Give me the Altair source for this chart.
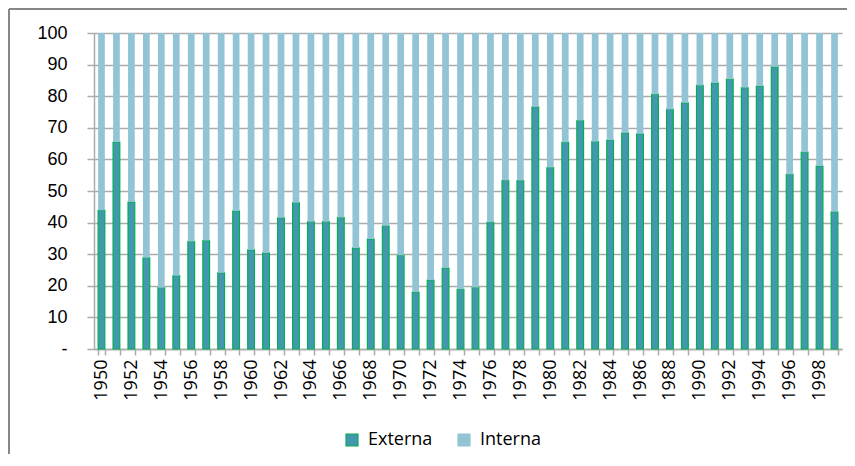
import altair as alt
import pandas as pd

years = list(range(1950, 2000))
externa = [43.9, 65.5, 46.5, 28.9, 19.4, 23.2, 34.0, 34.3, 24.1, 43.7,
           31.4, 30.4, 41.5, 46.3, 40.3, 40.3, 41.6, 32.0, 34.8, 39.0,
           29.7, 18.0, 21.8, 25.6, 18.9, 19.5, 40.1, 53.4, 53.3, 76.6,
           57.4, 65.4, 72.3, 65.6, 66.1, 68.4, 68.1, 80.6, 75.8, 77.9,
           83.4, 84.2, 85.4, 82.7, 83.2, 89.3, 55.3, 62.3, 57.9, 43.4]
interna = [56.1, 34.5, 53.5, 71.1, 80.6, 76.8, 66.0, 65.7, 75.9, 56.3,
           68.6, 69.6, 58.5, 53.7, 59.7, 59.7, 58.4, 68.0, 65.2, 61.0,
           70.3, 82.0, 78.2, 74.4, 81.1, 80.5, 59.9, 46.6, 46.7, 23.4,
           42.6, 34.6, 27.7, 34.4, 33.9, 31.6, 31.9, 19.4, 24.2, 22.1,
           16.6, 15.8, 14.6, 17.3, 16.8, 10.7, 44.7, 37.7, 42.1, 56.6]
series = ["Externa", "Interna"]
fill_colors = ["#4398AF", "#93C4D6"]
stroke_colors = ["#00B050", "#93C4D6"]
y_ticks = list(range(0, 101, 10))

rows = []
for i, y in enumerate(years):
    rows.append({"Año": y, "Tipo": "Externa", "Valor": externa[i], "ord": 0})
    rows.append({"Año": y, "Tipo": "Interna", "Valor": interna[i], "ord": 1})
df = pd.DataFrame(rows)

GRID = "#ABABAB"

bars = alt.Chart(df).mark_bar().encode(
    x=alt.X("Año:O",
            scale=alt.Scale(paddingInner=0.55, paddingOuter=0.275),
            axis=alt.Axis(title=None, labelAngle=-90, labelFont="Open Sans",
                          labelFontSize=18, labelColor="black",
                          tickBand="extent", ticks=True, tickSize=6,
                          tickColor=GRID, tickWidth=1.5, domainColor=GRID,
                          domainWidth=1.5,
                          labelExpr="datum.value % 2 == 0 ? datum.label : ''",
                          labelOverlap=False, grid=False, labelPadding=4)),
    y=alt.Y("Valor:Q", stack="zero",
            scale=alt.Scale(domain=[0, 100], nice=False),
            axis=alt.Axis(title=None, values=y_ticks,
                          labelExpr="datum.value == 0 ? '-\u00a0\u00a0\u00a0' : datum.label",
                          labelFont="Liberation Sans", labelFontSize=18,
                          labelColor="black", labelPadding=20,
                          tickSize=7, tickColor=GRID, tickWidth=1.5,
                          gridColor=GRID, gridWidth=1.5,
                          domainColor=GRID, domainWidth=1.5)),
    fill=alt.Fill("Tipo:N",
                  scale=alt.Scale(domain=series, range=fill_colors),
                  legend=alt.Legend(title=None, orient="none", legendX=249,
                                    legendY=398, direction="horizontal",
                                    symbolType="square", symbolSize=144,
                                    labelFont="Open Sans", labelFontSize=18,
                                    labelColor="black", labelOffset=7,
                                    columnPadding=22, padding=0,
                                    symbolStrokeWidth=1.2)),
    stroke=alt.Stroke("Tipo:N",
                      scale=alt.Scale(domain=series, range=stroke_colors)),
    strokeWidth=alt.condition(alt.datum.Tipo == "Externa",
                              alt.value(1.2), alt.value(0)),
    order=alt.Order("ord:Q"),
)

frame_v = alt.Chart(alt.Data(values=[{}])).mark_rule(
    color="#868686", strokeWidth=2
).encode(x=alt.value(-85), y=alt.value(-24), y2=alt.value(440))

frame_h = alt.Chart(alt.Data(values=[{}])).mark_rule(
    color="#868686", strokeWidth=2
).encode(x=alt.value(-85), x2=alt.value(770), y=alt.value(-24))

chart = alt.layer(frame_v, frame_h, bars).properties(
    width=748, height=316,
    autosize=alt.AutoSizeParams(type="none"),
    padding={"left": 86, "top": 25, "right": 5, "bottom": 105},
).configure_view(stroke=None)

chart.save("out.html", embed_options={"renderer": "svg", "actions": False})
